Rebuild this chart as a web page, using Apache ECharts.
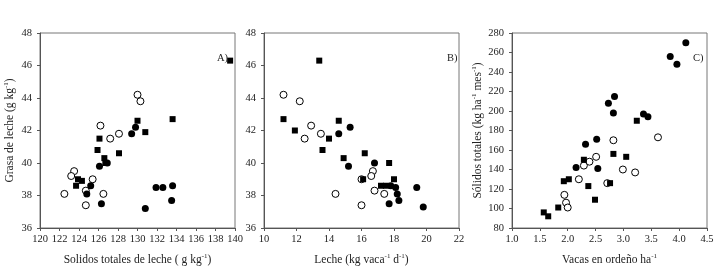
<!DOCTYPE html>
<html>
<head>
<meta charset="utf-8">
<script src="https://cdn.jsdelivr.net/npm/echarts@6/dist/echarts.min.js"></script>
<style>
  html, body { margin: 0; padding: 0; background: #fff; }
  #main { width: 724px; height: 269px; }
</style>
</head>
<body>
<div id="main"></div>
<script>
// A) solidos totales (g/kg) vs grasa (g/kg)
let aSquare = [[139.5,46.3],[130.0,42.6],[133.6,42.7],[130.8,41.9],[126.1,41.5],[125.9,40.8],[128.1,40.6],[126.6,40.3],[126.7,40.0],[123.9,39.0],[124.3,38.9],[123.7,38.6]];
let aFilled = [[129.8,42.2],[129.4,41.8],[126.1,39.8],[126.9,40.0],[125.2,38.6],[124.8,38.1],[126.3,37.5],[130.8,37.2],[131.9,38.5],[132.6,38.5],[133.6,38.6],[133.5,37.7]];
let aOpen = [[130.0,44.2],[130.3,43.8],[126.2,42.3],[128.1,41.8],[127.2,41.5],[123.5,39.5],[123.2,39.2],[125.4,39.0],[122.5,38.1],[124.7,38.3],[126.5,38.1],[124.7,37.4]];

// B) leche (kg/vaca/d) vs grasa (g/kg)
let bSquare = [[13.4,46.3],[11.2,42.7],[11.9,42.0],[14.6,42.6],[14.0,41.5],[13.6,40.8],[14.9,40.3],[16.2,40.6],[17.7,40.0],[16.1,39.0],[18.0,39.0],[17.2,38.6],[17.5,38.6]];
let bFilled = [[15.3,42.2],[14.6,41.8],[15.2,39.8],[16.8,40.0],[17.8,38.6],[18.1,38.5],[18.2,38.1],[18.3,37.7],[17.7,37.5],[19.4,38.5],[19.8,37.3]];
let bOpen = [[11.2,44.2],[12.2,43.8],[12.9,42.3],[13.5,41.8],[12.5,41.5],[16.7,39.5],[16.6,39.2],[16.0,39.0],[14.4,38.1],[16.8,38.3],[17.4,38.1],[16.0,37.4]];

// C) vacas en ordeño/ha vs solidos totales (kg/ha/mes)
let cFilled = [[4.12,270],[3.84,256],[3.96,248],[2.84,215],[2.73,208],[2.82,198],[3.36,197],[3.44,194],[2.52,171],[2.32,166],[2.15,142],[2.54,141]];
let cSquare = [[3.24,190],[2.82,156],[3.05,153],[2.29,150],[2.02,130],[1.93,128],[2.37,123],[2.76,126],[2.49,109],[1.83,101],[1.57,96],[1.65,92]];
let cOpen = [[3.62,173],[2.82,170],[2.51,153],[2.39,148],[2.29,144],[2.99,140],[3.21,137],[2.20,130],[2.71,126],[1.94,114],[1.97,106],[2.00,101]];

let panelLabels = ['A)', 'B)', 'C)'];

let myChart = echarts.init(document.getElementById('main'));
let font = 'Liberation Serif';

let axisLabel = { color: '#222', fontSize: 10.5, fontFamily: font };
let axisLine = { show: true, lineStyle: { color: '#555', width: 1 } };
let axisTick = { show: true, inside: false, length: 3, lineStyle: { color: '#555' } };
let nameStyle = {
    color: '#222', fontSize: 11.5, fontFamily: font,
    rich: {
        n: { fontSize: 11.5, fontFamily: font, color: '#222' },
        sup: { fontSize: 7, fontFamily: font, color: '#222', padding: [0, 0, 6, 0] }
    }
};

function xAx(idx, min, max, interval, name, fmt) {
    return {
        gridIndex: idx, type: 'value', min: min, max: max, interval: interval,
        name: name, nameLocation: 'middle', nameGap: 25, nameTextStyle: nameStyle,
        axisLine: axisLine, axisTick: axisTick, splitLine: { show: false },
        axisLabel: Object.assign({}, axisLabel, { margin: 6 }, fmt ? { formatter: fmt } : {})
    };
}
function yAx(idx, min, max, interval, name, gap) {
    return {
        gridIndex: idx, type: 'value', min: min, max: max, interval: interval,
        name: name, nameLocation: 'middle', nameGap: gap, nameTextStyle: nameStyle,
        axisLine: axisLine, axisTick: axisTick, splitLine: { show: false },
        axisLabel: Object.assign({}, axisLabel, { margin: 8 })
    };
}

let sq = { symbol: 'rect', symbolSize: 6, itemStyle: { color: '#000', opacity: 1 } };
let fc = { symbol: 'circle', symbolSize: 7, itemStyle: { color: '#000', opacity: 1 } };
let oc = { symbol: 'circle', symbolSize: 7, itemStyle: { color: '#fff', borderColor: '#000', borderWidth: 1, opacity: 1 } };

function sc(idx, data, st) {
    return Object.assign({ type: 'scatter', xAxisIndex: idx, yAxisIndex: idx, data: data, z: 3 }, st);
}

let titleStyle = { fontSize: 10.5, fontWeight: 'normal', fontFamily: font, color: '#222' };
let gridBase = { top: 33, width: 195, height: 195, show: true, borderColor: '#777', borderWidth: 1, outerBoundsMode: 'none', containLabel: false };

let option = {
    animation: false,
    title: [
        { text: panelLabels[0], left: 212, top: 48, textStyle: titleStyle },
        { text: panelLabels[1], left: 442, top: 48, textStyle: titleStyle },
        { text: panelLabels[2], left: 688, top: 48, textStyle: titleStyle }
    ],
    grid: [
        Object.assign({ left: 40 }, gridBase),
        Object.assign({ left: 264 }, gridBase),
        Object.assign({ left: 512 }, gridBase)
    ],
    xAxis: [
        xAx(0, 120, 140, 2, '{n|Solidos totales de leche ( g kg}{sup|-1}{n|)}'),
        xAx(1, 10, 22, 2, '{n|Leche (kg vaca}{sup|-1}{n| d}{sup|-1}{n|)}'),
        xAx(2, 1.0, 4.5, 0.5, '{n|Vacas en ordeño ha}{sup|-1}', function (v) { return v.toFixed(1); })
    ],
    yAxis: [
        yAx(0, 36, 48, 2, '{n|Grasa de leche (g kg}{sup|-1}{n|)}', 24),
        yAx(1, 36, 48, 2, '', 24),
        yAx(2, 80, 280, 20, '{n|Sólidos totales (kg ha}{sup|-1}{n| mes}{sup|-1}{n|)}', 28)
    ],
    series: [
        sc(0, aOpen, oc), sc(0, aFilled, fc), sc(0, aSquare, sq),
        sc(1, bOpen, oc), sc(1, bFilled, fc), sc(1, bSquare, sq),
        sc(2, cOpen, oc), sc(2, cFilled, fc), sc(2, cSquare, sq)
    ]
};
myChart.setOption(option);
</script>
</body>
</html>
